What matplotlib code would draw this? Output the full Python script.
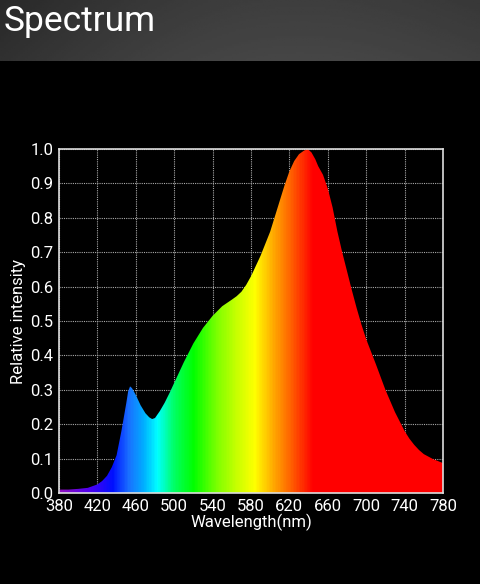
import numpy as np
import matplotlib.pyplot as plt
from matplotlib.colors import LinearSegmentedColormap

plt.rcParams['font.family'] = ['Roboto', 'DejaVu Sans']

# spectrum
wavelength = [380, 390, 400, 410, 420, 425, 430, 435, 440, 445, 450, 452, 454, 456, 460,
              465, 470, 474, 477, 480, 485, 490, 495, 500, 510, 520, 530, 540, 550, 560,
              565, 570, 575, 580, 585, 590, 595, 600, 605, 610, 615, 620, 625, 630, 635,
              639, 643, 647, 650, 655, 660, 665, 670, 675, 680, 685, 690, 695, 700, 710,
              720, 730, 740, 745, 750, 755, 760, 770, 780]
intensity = [0.01, 0.01, 0.012, 0.015, 0.025, 0.035, 0.05, 0.075, 0.11, 0.18, 0.26, 0.295,
             0.31, 0.305, 0.285, 0.255, 0.232, 0.22, 0.215, 0.218, 0.238, 0.262, 0.29,
             0.32, 0.38, 0.435, 0.48, 0.515, 0.543, 0.562, 0.572, 0.585, 0.605, 0.63,
             0.66, 0.69, 0.725, 0.76, 0.805, 0.85, 0.895, 0.935, 0.965, 0.985, 0.995,
             1.0, 0.99, 0.97, 0.95, 0.925, 0.885, 0.83, 0.76, 0.70, 0.645, 0.59, 0.538,
             0.49, 0.447, 0.375, 0.30, 0.235, 0.18, 0.158, 0.14, 0.125, 0.113, 0.098,
             0.087]
x_ticks = [380, 420, 460, 500, 540, 580, 620, 660, 700, 740, 780]
y_ticks = [0.0, 0.1, 0.2, 0.3, 0.4, 0.5, 0.6, 0.7, 0.8, 0.9, 1.0]

# colour stops along the wavelength axis
stop_wl = [380, 410, 435, 452, 468, 482, 500, 520, 545, 565, 584, 602, 622, 645, 780]
stop_col = ['#9010c0', '#5000f0', '#0010ff', '#1a70ff', '#00b0ff', '#00ffff', '#00ff60',
            '#00ff00', '#80ff00', '#c8ff00', '#ffff00', '#ffb000', '#ff6000', '#ff0000',
            '#ff0000']
pos = [(w - 380) / 400 for w in stop_wl]
cmap = LinearSegmentedColormap.from_list('spec', list(zip(pos, stop_col)))

fig = plt.figure(figsize=(4.8, 5.84), dpi=100, facecolor='black')

# header bar
hdr = fig.add_axes([0, 1 - 61 / 584, 1, 61 / 584])
hx = np.linspace(0, 1, 200)
hy = np.linspace(0, 1, 30)[:, None]
shade = 0.16 + 0.05 * np.sin(np.pi * hx)[None, :] + 0.06 * hx[None, :] + 0.03 * hy
hdr.imshow(shade, cmap='gray', vmin=0, vmax=1, aspect='auto', extent=[0, 1, 0, 1])
hdr.set_axis_off()
fig.text(4 / 480, 1 - 21 / 584, 'Spectrum', color='white', fontsize=25.5,
         va='center', ha='left')

ax = fig.add_axes([59 / 480, 91 / 584, 384 / 480, 344 / 584])
ax.set_facecolor('black')
ax.set_xlim(380, 780)
ax.set_ylim(0, 1.0)

poly = ax.fill_between(wavelength, intensity, 0, color='none', lw=0)
grad = np.linspace(0, 1, 400)[None, :]
img = ax.imshow(grad, cmap=cmap, aspect='auto', extent=[380, 780, 0, 1], zorder=2)
path = poly.get_paths()[0]
img.set_clip_path(path, transform=ax.transData)

ax.set_xticks(x_ticks)
ax.set_yticks(y_ticks)
ax.set_yticklabels([f'{v:.1f}' for v in y_ticks])
ax.grid(True, color='#aaaaaa', linestyle=(0, (1, 1)), linewidth=0.8, zorder=1)
ax.set_axisbelow(True)
ax.tick_params(length=0, colors='white', labelsize=12, pad=4)
for s in ax.spines.values():
    s.set_color('#dddddd')
    s.set_linewidth(1.2)
    s.set_zorder(3)
ax.set_xlabel('Wavelength(nm)', color='white', fontsize=12, labelpad=0)
ax.set_ylabel('Relative intensity', color='white', fontsize=12, labelpad=3)

fig.savefig('out.png', dpi=100, facecolor='black')
